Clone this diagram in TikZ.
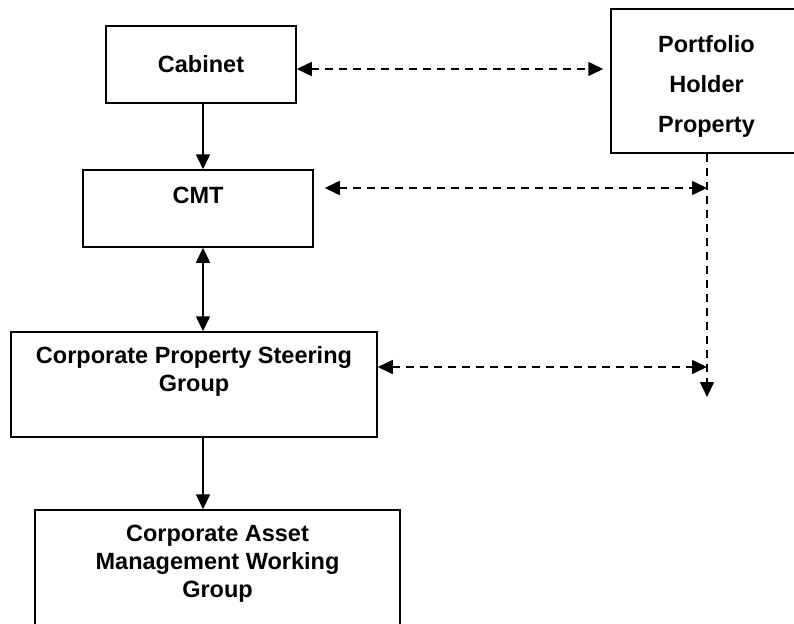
\documentclass[tikz,border=0pt]{standalone}
\usepackage{fontspec}
\setmainfont{Liberation Sans}
\usetikzlibrary{arrows.meta}
\begin{document}
\begin{tikzpicture}[x=1pt,y=-1pt,
  >={Triangle[length=15pt,width=14pt]},
  box/.style={draw, line width=1.5pt, rectangle, inner sep=0pt},
  lbl/.style={font=\fontsize{23.5}{28}\selectfont\bfseries, align=center, inner sep=0pt},
  plbl/.style={font=\fontsize{23.5}{40}\selectfont\bfseries, align=center, inner sep=0pt},
  solidlink/.style={line width=1.5pt},
  dashlink/.style={line width=1.5pt, dash pattern=on 8pt off 6pt}]
\useasboundingbox (0,0) rectangle (794,623);
% boxes
\node[box, minimum width=190pt, minimum height=77pt] (cab) at (201,64.5) {};
\node[lbl] (cabT) at (201,64.5) {Cabinet};
\node[box, minimum width=191pt, minimum height=144pt] (port) at (706.5,81) {};
\node[plbl] (portT) at (706.5,86) {Portfolio\\Holder\\Property};
\node[box, minimum width=230pt, minimum height=77pt] (cmt) at (198,208.5) {};
\node[lbl] (cmtT) at (198,195) {CMT};
\node[box, minimum width=366pt, minimum height=105pt] (cpsg) at (194,384.5) {};
\node[lbl] (cpsgT) at (194,371) {Corporate Property Steering\\Group};
\node[box, minimum width=365pt, minimum height=140pt] (camwg) at (217.5,580) {};
\node[lbl] (camwgT) at (217.5,564) {Corporate Asset\\Management Working\\Group};
% coordinates
\coordinate (spine) at (203,0);
\coordinate (v1) at (707,188);
\coordinate (v2) at (707,367);
\coordinate (vend) at (707,397);
% solid links
\draw[solidlink,->] (cab.south -| spine) -- (cmt.north -| spine);
\draw[solidlink,<->] (cmt.south -| spine) -- (cpsg.north -| spine);
\draw[solidlink,->] (cpsg.south -| spine) -- (camwg.north -| spine);
% dashed links
\draw[dashlink,<->,shorten >=7pt] ([yshift=-4.5pt]cab.east) -- ([yshift=-4.5pt]cab.east -| port.west);
\draw[dashlink,->] (port.south -| v1) -- (vend);
\draw[dashlink,<->,shorten <=11pt] (cmt.east |- v1) -- (v1);
\draw[dashlink,<->] (cpsg.east |- v2) -- (v2);
\end{tikzpicture}
\end{document}
